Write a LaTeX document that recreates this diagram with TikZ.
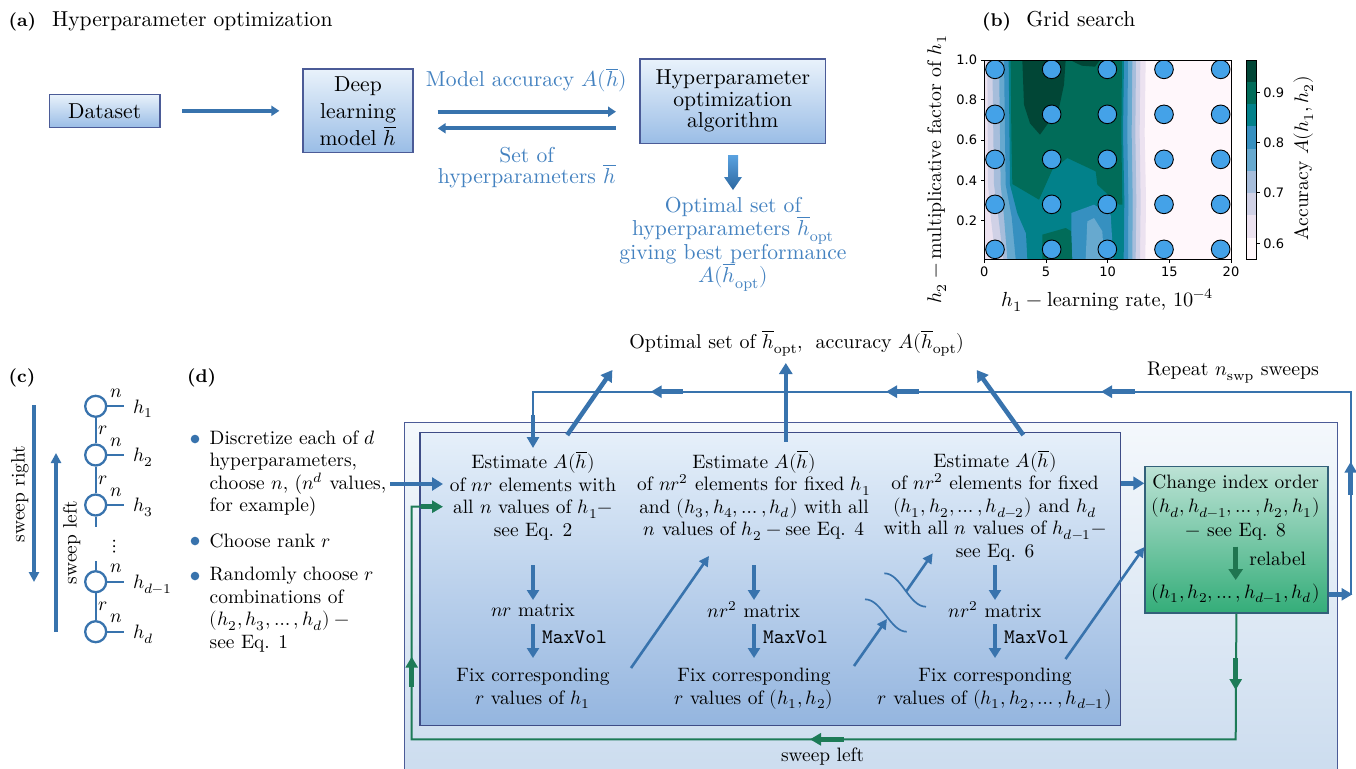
\documentclass[tikz,border=0pt]{standalone}
\usepackage{fontspec}
\usepackage{unicode-math}
\setmathfont{Latin Modern Math}
\newfontfamily\dejavu{DejaVu Sans}
\usetikzlibrary{arrows.meta}
\definecolor{ablue}{HTML}{3873AD}
\definecolor{lblue}{HTML}{4482C0}
\definecolor{bordc}{HTML}{4B5B97}
\definecolor{bordi}{HTML}{3E4C86}
\definecolor{btop}{HTML}{E9F2FB}
\definecolor{bbot}{HTML}{9ABDE6}
\definecolor{otop}{HTML}{F4F8FC}
\definecolor{obot}{HTML}{CADBEE}
\definecolor{itop}{HTML}{E6F0FA}
\definecolor{ibot}{HTML}{94B5DF}
\definecolor{gtop}{HTML}{BCE2D5}
\definecolor{gbot}{HTML}{34AD79}
\definecolor{gbord}{HTML}{33617A}
\definecolor{gline}{HTML}{1D7B57}
\definecolor{garr}{HTML}{1F7550}
\definecolor{dotc}{HTML}{44A2E8}
\definecolor{fattop}{HTML}{5AA2E0}
\definecolor{fatbot}{HTML}{2C67A0}
\definecolor{cA}{HTML}{FFF7FB}
\definecolor{cB}{HTML}{ECE2F0}
\definecolor{cC}{HTML}{D0D1E6}
\definecolor{cD}{HTML}{A6BDDB}
\definecolor{cE}{HTML}{67A9CF}
\definecolor{cF}{HTML}{3690C0}
\definecolor{cG}{HTML}{02818A}
\definecolor{cH}{HTML}{016C59}
\definecolor{cI}{HTML}{014636}
\newcommand\fA{\fontsize{10.8}{11.25}\selectfont\lineskiplimit=-20pt}
\newcommand\fD{\fontsize{9.7}{11.25}\selectfont\lineskiplimit=-20pt}
\newcommand\fLab{\fontsize{9.2}{10}\selectfont\bfseries}
\newcommand\fT{\dejavu\fontsize{6.5}{7.5}\selectfont}
\begin{document}
\begin{tikzpicture}[x=0.5pt,y=-0.5pt,
  bx/.style={draw=bordc,line width=0.6pt,top color=btop,bottom color=bbot,inner sep=0pt,align=center,font=\fA},
  arA/.style={ablue,line width=2.15pt,-{Triangle[length=4pt,width=5pt]}},
  arC/.style={ablue,line width=2pt,-{Triangle[length=5pt,width=5pt]}},
  arT/.style={ablue,line width=2.25pt,-{Triangle[length=5.5pt,width=6.5pt]}},
  arV/.style={ablue,line width=2pt,-{Triangle[length=5pt,width=6pt]}},
  arD/.style={ablue,line width=1.3pt,-{Triangle[length=5pt,width=5pt]}},
  lthin/.style={ablue,line width=0.85pt},
  midarr/.style={ablue,line width=2.25pt,-{Triangle[length=5.5pt,width=6pt]}},
  gthin/.style={gline,line width=1pt},
  gmid/.style={gline,line width=2.25pt,-{Triangle[length=5.5pt,width=6pt]}},
  garrow/.style={garr,line width=2.5pt,-{Triangle[length=5.5pt,width=7pt]}},
  tx/.style={font=\fD,align=center,inner sep=0pt},
  cn/.style={circle,draw=ablue,line width=1.15pt,minimum size=10.5pt,inner sep=0pt},
  cl/.style={ablue,line width=1.15pt},
]
\useasboundingbox (0,0) rectangle (1356,768);
% ---------------- panel (a)
\node[font=\fLab,anchor=base west,inner sep=0pt] (la) at (8.3,26.5) {(a)};
\node[font=\fA,anchor=base west,inner sep=0pt] (ta) at (51.7,26.7) {Hyperparameter optimization};
\node[bx,minimum width=55.35pt,minimum height=16.5pt] (ds) at (104.7,110.8) {Dataset};
\node[bx,minimum width=55pt,minimum height=41.85pt,font={\fontsize{10.8}{13.5}\selectfont\lineskiplimit=-20pt}] (dl) at (358,110.8) {Deep\\learning\\model $\overline{h}$};
\node[bx,minimum width=92.85pt,minimum height=42.15pt,font={\fontsize{10.8}{10.75}\selectfont\lineskiplimit=-20pt}] (hoa) at (732.8,101.2) {Hyperparameter\\optimization\\algorithm};
\draw[arA] ([xshift=10.85pt]ds.east) -- ([xshift=-11.5pt]dl.west);
\coordinate (r1) at (437.7,111.7); \coordinate (r2) at (616,111.7);
\coordinate (l1) at (616,128.3); \coordinate (l2) at (437.7,128.3);
\draw[arA] (r1) -- (r2);
\draw[arA] (l1) -- (l2);
\node[font=\fA,text=lblue,inner sep=0pt] (macc) at (526.4,80) {Model accuracy $A(\overline{h})$};
\node[font={\fontsize{10.8}{10.8}\selectfont\lineskiplimit=-20pt},text=lblue,align=center,inner sep=0pt] (soh) at (526.7,167.5) {Set of\\hyperparameters $\overline{h}$};
\node[font={\fontsize{10.8}{11.8}\selectfont\lineskiplimit=-20pt},text=lblue,align=center,inner sep=0pt] (opa) at (733,244) {Optimal set of\\hyperparameters $\overline{h}_{\mathrm{opt}}$\\giving best performance\\$A(\overline{h}_{\mathrm{opt}})$};
\path[top color=fattop,bottom color=fatbot] (728,155) -- (738,155) -- (738,177) -- (742,177) -- (733,190) -- (724,177) -- (728,177) -- cycle;
% ---------------- panel (b)
\node[font=\fLab,anchor=base west,inner sep=0pt] (lb) at (981.7,26.7) {(b)};
\node[font=\fA,anchor=base west,inner sep=0pt] (tb) at (1026,26.7) {Grid search};
\begin{scope}[shift={(900,0)},scale=1/3]
 \clip (253,180) rectangle (993,777);
 \fill[cA] (253,180) rectangle (993,777);
 \fill[cB] (253,180) -- (737,180) -- (734,400) -- (738,600) -- (736,777) -- (253,777) -- cycle;
 \fill[cC] (262,180) -- (721,180) -- (719,400) -- (722,600) -- (720,777) -- (287,777) -- (272,650) -- (264,554) -- cycle;
 \fill[cD] (277,180) -- (708,180) -- (706,400) -- (709,600) -- (707,777) -- (310,777) -- (295,650) -- (282,554) -- cycle;
 \fill[cE] (297,180) -- (697,180) -- (695,400) -- (698,600) -- (697,777) -- (322,777) -- (312,650) -- (302,554) -- cycle;
 \fill[cF] (312,180) -- (684,180) -- (682,400) -- (685,600) -- (684,777) -- (347,777) -- (335,650) -- (317,554) -- cycle;
 \fill[cG] (326,180) -- (672,180) -- (669,400) -- (673,600) -- (671,777) -- (382,777) -- (378,700) -- (352,640) -- (330,554) -- cycle;
 \fill[cH] (332,180) -- (666,180) -- (664,400) -- (667,614) -- (657,614) -- (592,554) -- (587,514) -- (502,474) -- (457,509) -- (417,599) -- (337,552) -- (334,400) -- cycle;
 \fill[cH] (427,704) -- (497,684) -- (514,694) -- (517,777) -- (427,777) -- cycle;
 \fill[cF] (514,639) -- (582,614) -- (632,644) -- (640,777) -- (517,777) -- (514,694) -- cycle;
 \fill[cE] (562,664) -- (582,654) -- (607,694) -- (612,777) -- (557,777) -- cycle;
 \fill[cI] (367,180) -- (497,180) -- (492,254) -- (477,324) -- (420,404) -- (390,370) -- (372,314) -- cycle;
 \fill[cI] (510,180) -- (600,180) -- (585,200) -- (545,197) -- cycle;
 \foreach \xx in {285,455,622,792,962} \foreach \yy in {208,343,478,613,748}
   \draw[fill=dotc,line width=0.45pt] (\xx,\yy) circle (28);
\end{scope}
\draw[line width=0.4pt] (984.3,60) rectangle (1231,259);
\foreach \xx/\lab in {984.3/0,1046/5,1107.7/10,1169.3/15,1231/20} {
  \draw[line width=0.4pt] (\xx,259) -- (\xx,262.5);
  \node[font=\fT,inner sep=0pt] at (\xx,271.7) {\lab};
}
\foreach \yy/\lab in {60/1.0,99.7/0.8,140/0.6,180.3/0.4,220.7/0.2} {
  \draw[line width=0.4pt] (984.3,\yy) -- (980.8,\yy);
  \node[font=\fT,inner sep=0pt,anchor=east] at (977.5,\yy) {\lab};
}
\node[font=\fontsize{10.2}{11}\selectfont,inner sep=0pt] (xl) at (1107.5,300) {$h_1-{}$learning rate, $10^{-4}$};
\node[font=\fontsize{9.9}{11}\selectfont,inner sep=0pt,rotate=90] (yl) at (936.7,169.2) {$h_2-{}$multiplicative factor of $h_1$};
\foreach \ya/\yb/\cc in {259/238.3/cA,238.3/215.3/cB,215.3/193.3/cC,193.3/170.7/cD,170.7/149/cE,149/126/cF,126/104/cG,104/81.7/cH,81.7/60/cI}
  \fill[\cc] (1246.7,\ya) rectangle (1256.7,\yb);
\draw[line width=0.4pt] (1246.7,60) rectangle (1256.7,259);
\foreach \yy/\lab in {92.3/0.9,142.7/0.8,192.7/0.7,243.3/0.6} {
  \draw[line width=0.4pt] (1256.7,\yy) -- (1260.2,\yy);
  \node[font=\fT,inner sep=0pt,anchor=west] at (1263,\yy) {\lab};
}
\node[font=\fontsize{9.8}{11}\selectfont,inner sep=0pt,rotate=90] (cbl) at (1303.3,158.3) {Accuracy $A(h_1,h_2)$};
% ---------------- panel (c)
\node[font=\fLab,anchor=base west,inner sep=0pt] (lc) at (8.3,382) {(c)};
\coordinate (sr1) at (34,405); \coordinate (sr2) at (34,582);
\draw[arC] (sr1) -- (sr2);
\node[tx,rotate=90] (srt) at (20,494) {sweep right};
\coordinate (sl1) at (56,632); \coordinate (sl2) at (56,453);
\draw[arC] (sl1) -- (sl2);
\node[tx,rotate=90] (slt) at (71.7,542.5) {sweep left};
\foreach \i/\yy in {1/406.3,2/455,3/505,4/581.7,5/631.7} {
  \node[cn] (c\i) at (95.7,\yy) {};
  \node[tx] (n\i) at (116.7,\yy-13) {$n$};
}
\foreach \i in {1,...,5} \draw[cl] (c\i.east) -- ++(16.5,0);
\draw[cl] (c1.south) -- (c2.north);
\draw[cl] (c2.south) -- (c3.north);
\draw[cl] (c4.south) -- (c5.north);
\draw[cl] (c3.south) -- ++(0,10.5);
\draw[cl] (c4.north) -- ++(0,-9);
\node[tx] (r1) at (103.3,430.6) {$r$};
\node[tx] (r2) at (103.3,480) {$r$};
\node[tx] (r3) at (103.3,606.7) {$r$};
\node[tx] (vd) at (115,547) {$\vdots$};
\node[tx,anchor=west] (h1) at (133,408.8) {$h_1$};
\node[tx,anchor=west] (h2) at (133,457.5) {$h_2$};
\node[tx,anchor=west] (h3) at (133,507.5) {$h_3$};
\node[tx,anchor=west] (h4) at (133,584.2) {$h_{d-1}$};
\node[tx,anchor=west] (h5) at (133,634.2) {$h_d$};
% ---------------- panel (d)
\node[font=\fLab,anchor=base west,inner sep=0pt] (ld) at (186.7,382) {(d)};
\node[circle,fill=ablue,inner sep=0pt,minimum size=4.3pt] (bu1) at (195,439) {};
\node[circle,fill=ablue,inner sep=0pt,minimum size=4.3pt] (bu2) at (195,541) {};
\node[circle,fill=ablue,inner sep=0pt,minimum size=4.3pt] (bu3) at (195,576) {};
\node[tx,align=left,anchor=west] (b1) at (209.3,473.5) {Discretize each of $d$\\hyperparameters,\\choose $n$, ($n^d$ values,\\for example)};
\node[tx,align=left,anchor=west] (b2) at (209.3,541) {Choose rank $r$};
\node[tx,align=left,anchor=west] (b3) at (209.3,609.5) {Randomly choose $r$\\combinations of\\$(h_2,h_3,\dots,h_d)-{}$\\see Eq. 1};
\node[draw=bordc,line width=0.6pt,top color=otop,bottom color=obot,minimum width=466.45pt,minimum height=184.15pt,anchor=north west,inner sep=0pt] (outer) at (403.8,421.7) {};
\node[draw=bordi,line width=0.6pt,top color=itop,bottom color=ibot,minimum width=350.1pt,minimum height=146.65pt,anchor=north west,inner sep=0pt] (inner) at (419.3,431.7) {};
\node[draw=gbord,line width=0.6pt,top color=gtop,bottom color=gbot,minimum width=91.5pt,minimum height=73.15pt,anchor=north west,inner sep=0pt] (gbox) at (1144.3,466) {};
% column texts
\node[tx] (e1) at (533,495.5) {Estimate $A(\overline{h})$\\of $nr$ elements with\\all $n$ values of $h_1-$\\see Eq. 2};
\node[tx] (e2) at (754,495.5) {Estimate $A(\overline{h})$\\of $nr^2$ elements for fixed $h_1$\\and $(h_3,h_4,\dots,h_d)$ with all\\$n$ values of $h_2-{}$see Eq. 4};
\node[tx] (e3) at (995,505.5) {Estimate $A(\overline{h})$\\of $nr^2$ elements for fixed\\$(h_1,h_2,\dots,h_{d-2})$ and $h_d$\\with all $n$ values of $h_{d-1}-$\\see Eq. 6};
\node[tx] (m1) at (533,610) {$nr$ matrix};
\node[tx] (m2) at (754,610) {$nr^2$ matrix};
\node[tx] (m3) at (995,610) {$nr^2$ matrix};
\node[tx] (f1) at (533,688.5) {Fix corresponding\\$r$ values of $h_1$};
\node[tx] (f2) at (754,688.5) {Fix corresponding\\$r$ values of $(h_1,h_2)$};
\node[tx] (f3) at (995,688.5) {Fix corresponding\\$r$ values of $(h_1,h_2,\dots,h_{d-1})$};
\foreach \i/\xx in {1/533,2/754,3/995} {
  \draw[arV] (m\i.north |- 0,565) -- (m\i.north |- 0,600);
  \draw[arV] (m\i.south |- 0,624) -- (m\i.south |- 0,658);
  \node[font=\fontsize{10.3}{11}\selectfont\ttfamily,inner sep=0pt,anchor=west] (mv\i) at (\xx+8.6,637) {MaxVol};
}
% diagonal arrows inside
\draw[arD] (631,668) -- (709,556);
\draw[arD] (854,666) -- (887,619);
\draw[arD] (906,591.7) -- (932.7,553.3);
\draw[arD] (1065.5,659) -- (gbox.west |- 0,547);
\draw[lthin] (865,599.3) .. controls (882,599.3) and (890,631.7) .. (906.7,631.7);
\draw[lthin] (884.3,573.3) .. controls (901,573.3) and (909,606.7) .. (926,606.7);
% top
\node[tx,font=\fontsize{10}{11}\selectfont] (opt) at (797,343) {Optimal set of $\overline{h}_{\mathrm{opt}},\;$ accuracy $A(\overline{h}_{\mathrm{opt}})$};
\node[tx,font=\fontsize{9.9}{11}\selectfont] (rep) at (1233,373) {Repeat $n_{\mathrm{swp}}$ sweeps};
\draw[arT] (567.2,435) -- (612.4,370);
\draw[arT] (785.8,441.7) -- (785.8,363);
\draw[arT] (1023.3,435) -- (976.7,370);
% loop
\draw[lthin] (gbox.east |- 0,594.3) -- (1350.7,594.3) -- (1350.7,391.7) -- (533,391.7) -- (533,420);
\draw[midarr] (gbox.east |- 0,594.3) -- (1352.5,594.3);
\draw[midarr] (1350.7,495) -- (1350.7,461.7);
\draw[midarr] (1135,391.7) -- (1101,391.7);
\draw[midarr] (918.6,391.7) -- (886,391.7);
\draw[midarr] (683,391.7) -- (650.7,391.7);
\draw[midarr] (533,415) -- (533,448);
% input and col3 to green
\coordinate (in1) at (390,484); \coordinate (in2) at (443,484);
\draw[arT] (in1) -- (in2);
\draw[arT] (inner.east |- 0,483.3) -- (gbox.west |- 0,483.3);
% green box content
\node[tx,font={\fontsize{9.7}{12}\selectfont\lineskiplimit=-20pt}] (g1) at (1235.7,507.5) {Change index order\\$(h_d,h_{d-1},\dots,h_2,h_1)$\\$-$ see Eq. 8};
\draw[garrow] (g1.south |- 0,546.7) -- (g1.south |- 0,580);
\node[tx,anchor=west] (rl) at (1249,559.3) {relabel};
\node[tx] (g2) at (1235.7,593.3) {$(h_1,h_2,\dots,h_{d-1},h_d)$};
% green loop
\draw[gthin] (gbox.south) -- (1235.7,739.3) -- (411.7,739.3) -- (411.7,506.7) -- (425,506.7);
\draw[gmid] (1235.7,658) -- (1235.7,690);
\draw[gmid] (843.7,739.3) -- (810,739.3);
\draw[gmid] (411.7,686.7) -- (411.7,656.7);
\draw[gmid] (421,506.7) -- (443,506.7);
\node[tx] (swl) at (822.6,757) {sweep left};
\end{tikzpicture}
\end{document}
